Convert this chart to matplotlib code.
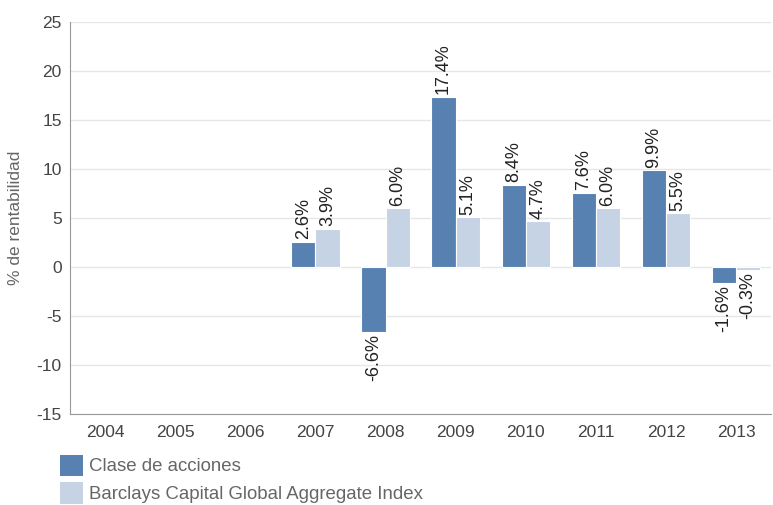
import matplotlib.pyplot as plt
import numpy as np
from matplotlib.patches import Patch

plt.rcParams['font.family'] = ['Liberation Sans', 'DejaVu Sans']
plt.rcParams['axes.unicode_minus'] = False

# data
years = ['2004', '2005', '2006', '2007', '2008', '2009', '2010', '2011', '2012', '2013']
clase = [np.nan, np.nan, np.nan, 2.6, -6.6, 17.4, 8.4, 7.6, 9.9, -1.6]
barclays = [np.nan, np.nan, np.nan, 3.9, 6.0, 5.1, 4.7, 6.0, 5.5, -0.3]
series_names = ['Clase de acciones', 'Barclays Capital Global Aggregate Index']
colors = ['#5681b1', '#c5d3e5']

fig = plt.figure(figsize=(7.73, 5.05), dpi=100)
ax = fig.add_axes([0.0906, 0.180, 0.907, 0.776])

x = np.arange(len(years))
w = 0.345
for vals, off, c in [(clase, -w / 2, colors[0]), (barclays, w / 2, colors[1])]:
    for xi, v in zip(x, vals):
        if np.isnan(v):
            continue
        ax.bar(xi + off, v, width=w, color=c, edgecolor='white', linewidth=0.8, zorder=3)
        if v >= 0:
            ax.text(xi + off, v + 0.25, f'{v:.1f}%', rotation=90, ha='center', va='bottom',
                    fontsize=13, color='#222222')
        else:
            ax.text(xi + off, v - 0.25, f'{v:.1f}%', rotation=90, ha='center', va='top',
                    fontsize=13, color='#222222')

ax.set_xlim(-0.5, len(years) - 0.5)
ax.set_ylim(-15, 25)
ax.set_yticks(range(-15, 26, 5))
ax.set_xticks(x)
ax.set_xticklabels(years)
ax.grid(axis='y', color='#e6e6e6', linewidth=1, zorder=0)
ax.tick_params(length=0, labelsize=12.5, labelcolor='#444444')
ax.tick_params(axis='x', pad=8)
ax.tick_params(axis='y', pad=6)
for s in ['top', 'right']:
    ax.spines[s].set_visible(False)
for s in ['left', 'bottom']:
    ax.spines[s].set_color('#999999')
ax.set_ylabel('% de rentabilidad', fontsize=12.5, color='#666666', labelpad=10)

handles = [Patch(facecolor=c, edgecolor='none') for c in colors]
fig.legend(handles, series_names, loc='upper left', bbox_to_anchor=(0.078, 0.1),
           frameon=False, fontsize=13.4, labelcolor='#666666', handlelength=1.22,
           handleheight=1.38, handletextpad=0.33, labelspacing=0.36, borderaxespad=0,
           borderpad=0)

fig.savefig('out.png', dpi=100)
